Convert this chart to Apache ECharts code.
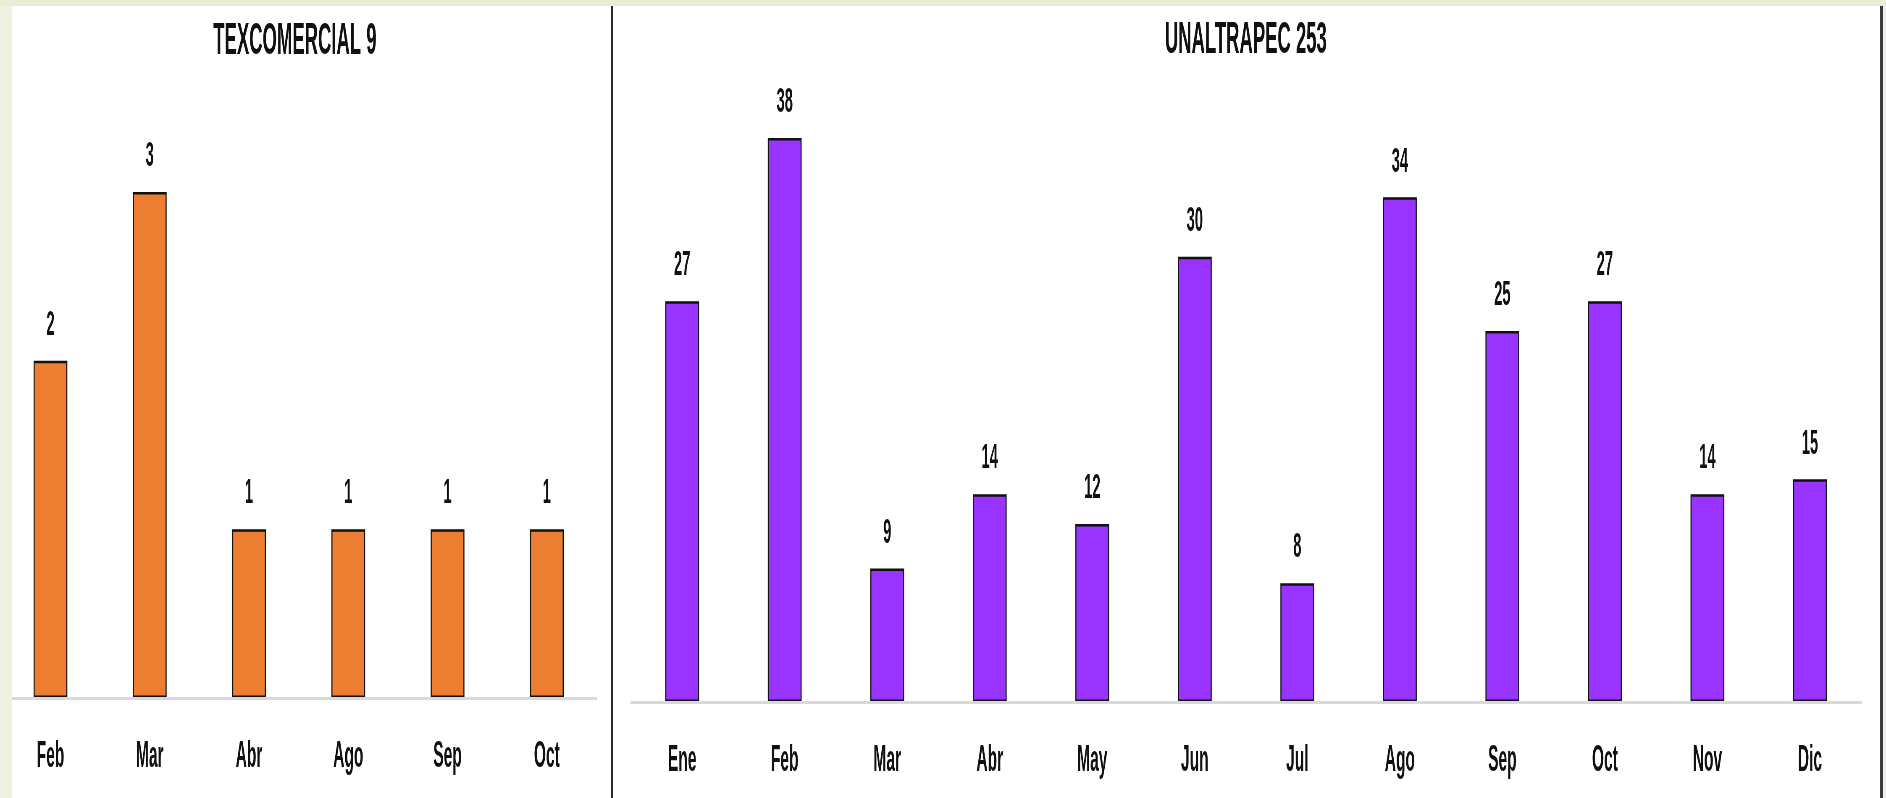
<!DOCTYPE html>
<html>
<head>
<meta charset="utf-8">
<script src="https://cdn.jsdelivr.net/npm/echarts@6/dist/echarts.min.js"></script>
<style>
  html, body { margin: 0; padding: 0; overflow: hidden; background: #fff; }
  #wrap { width: 1886px; height: 798px; overflow: hidden; }
  #main { width: 4490px; height: 798px; transform: scaleX(0.42004); transform-origin: 0 0; }
</style>
</head>
<body>
<div id="wrap"><div id="main"></div></div>
<script>
// datos
var titulos = ['TEXCOMERCIAL 9', 'UNALTRAPEC 253']
var mesesTex = ['Feb', 'Mar', 'Abr', 'Ago', 'Sep', 'Oct']
var valoresTex = [2, 3, 1, 1, 1, 1]
var mesesUna = ['Ene', 'Feb', 'Mar', 'Abr', 'May', 'Jun', 'Jul', 'Ago', 'Sep', 'Oct', 'Nov', 'Dic']
var valoresUna = [27, 38, 9, 14, 12, 30, 8, 34, 25, 27, 14, 15]

// the original picture is squeezed sideways, so the chart is drawn wide and squeezed with css
var K = 4490 / 1886
function px (x) { return Math.round(x * K) }

var fuente = '"Liberation Sans", Arial, sans-serif'

function ejeX (grid, data) {
  return {
    type: 'category',
    gridIndex: grid,
    data: data,
    z: 5, // axis line over the bar bottoms
    axisTick: { show: false },
    axisLine: { lineStyle: { color: '#d9d9d9', width: 3 } },
    axisLabel: { margin: 40, fontSize: 37, fontWeight: 'bold', color: '#111', fontFamily: fuente }
  }
}

function barras (idx, data, color, ancho) {
  return {
    type: 'bar',
    xAxisIndex: idx,
    yAxisIndex: idx,
    data: data,
    barWidth: ancho,
    itemStyle: { color: color, borderColor: '#111', borderWidth: 2.5 },
    label: {
      show: true,
      position: 'top',
      distance: 18,
      fontSize: 35,
      fontWeight: 'bold',
      color: '#111',
      fontFamily: fuente
    }
  }
}

var option = {
  backgroundColor: '#ffffff',
  animation: false,
  grid: [
    { left: px(0.85), top: 192, width: px(596.65) - px(0.85), height: 506, outerBoundsMode: 'none' },
    { left: px(630.7), top: 138, width: px(1861.3) - px(630.7), height: 564, outerBoundsMode: 'none' }
  ],
  xAxis: [ejeX(0, mesesTex), ejeX(1, mesesUna)],
  yAxis: [
    { type: 'value', gridIndex: 0, min: 0, max: 3, show: false },
    { type: 'value', gridIndex: 1, min: 0, max: 38, show: false }
  ],
  series: [
    barras(0, valoresTex, '#ED7D31', '34%'),
    barras(1, valoresUna, '#9933FF', '33%')
  ],
  graphic: [
    { type: 'rect', z: 100, shape: { x: 0, y: 0, width: px(12), height: 798 }, style: { fill: '#EEF2E2' } },
    { type: 'rect', z: 100, shape: { x: 0, y: 0, width: 4490, height: 6 }, style: { fill: '#E9EDD8' } },
    { type: 'rect', z: 100, shape: { x: px(611), y: 6, width: px(2), height: 792 }, style: { fill: '#2b2b2b' } },
    { type: 'rect', z: 100, shape: { x: px(1880), y: 6, width: px(3), height: 792 }, style: { fill: '#3a3a3a' } },
    { type: 'rect', z: 100, shape: { x: px(1883), y: 6, width: px(3) + 2, height: 792 }, style: { fill: '#eeeeee' } },
    {
      type: 'text', z: 100, x: px(295), y: 42,
      style: { text: titulos[0], font: 'bold 44px ' + fuente, fill: '#111', align: 'center', verticalAlign: 'middle' }
    },
    {
      type: 'text', z: 100, x: px(1246), y: 41,
      style: { text: titulos[1], font: 'bold 44px ' + fuente, fill: '#111', align: 'center', verticalAlign: 'middle' }
    }
  ]
}

var chart = echarts.init(document.getElementById('main'))
chart.setOption(option)
</script>
</body>
</html>
